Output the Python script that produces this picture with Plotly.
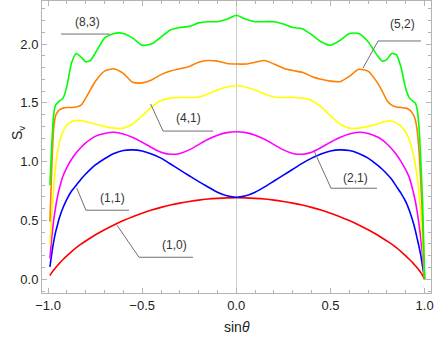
"""S_v against sin(theta) for several (n,m) states"""

import plotly.graph_objs as go

FILE_OUT = 'out.html'

SIN_THETA = [-0.99, -0.98, -0.97, -0.96, -0.95, -0.94, -0.92, -0.90, -0.875, -0.85,
             -0.825, -0.80, -0.775, -0.75, -0.70, -0.65, -0.60, -0.55, -0.50, -0.45,
             -0.40, -0.35, -0.30, -0.25, -0.20, -0.15, -0.10, -0.05, 0.0,
             0.05, 0.10, 0.15, 0.20, 0.25, 0.30, 0.35, 0.40, 0.45, 0.50,
             0.55, 0.60, 0.65, 0.70, 0.75, 0.775, 0.80, 0.825, 0.85, 0.875,
             0.90, 0.92, 0.94, 0.95, 0.96, 0.97, 0.98, 0.99, 1.0]

S_10 = [0.032, 0.056, 0.078, 0.098, 0.117, 0.135, 0.168, 0.199, 0.235, 0.268,
        0.298, 0.325, 0.351, 0.376, 0.421, 0.462, 0.499, 0.532, 0.561, 0.588,
        0.611, 0.631, 0.647, 0.661, 0.673, 0.682, 0.688, 0.692, 0.693,
        0.692, 0.688, 0.682, 0.673, 0.661, 0.647, 0.631, 0.611, 0.588, 0.561,
        0.532, 0.499, 0.462, 0.421, 0.376, 0.351, 0.325, 0.298, 0.268, 0.235,
        0.199, 0.168, 0.135, 0.117, 0.098, 0.078, 0.056, 0.032, 0.0]

S_11 = [0.105, 0.22, 0.32, 0.40, 0.46, 0.52, 0.61, 0.68, 0.75, 0.80,
        0.85, 0.895, 0.935, 0.97, 1.025, 1.07, 1.095, 1.10, 1.09, 1.065,
        1.03, 0.98, 0.93, 0.88, 0.83, 0.785, 0.74, 0.71, 0.697,
        0.71, 0.74, 0.785, 0.835, 0.885, 0.935, 0.985, 1.03, 1.065, 1.09,
        1.10, 1.095, 1.07, 1.03, 0.97, 0.935, 0.895, 0.85, 0.79, 0.73,
        0.66, 0.58, 0.48, 0.42, 0.35, 0.28, 0.20, 0.10, 0.0]

S_21 = [0.175, 0.36, 0.50, 0.61, 0.70, 0.77, 0.88, 0.95, 1.02, 1.075,
        1.12, 1.16, 1.19, 1.215, 1.24, 1.25, 1.235, 1.205, 1.165, 1.12,
        1.08, 1.063, 1.07, 1.10, 1.145, 1.19, 1.225, 1.247, 1.254,
        1.247, 1.225, 1.19, 1.145, 1.10, 1.07, 1.063, 1.08, 1.12, 1.165,
        1.205, 1.235, 1.25, 1.24, 1.21, 1.185, 1.15, 1.11, 1.06, 1.0,
        0.93, 0.86, 0.74, 0.67, 0.58, 0.47, 0.34, 0.18, 0.0]

S_41 = [0.29, 0.55, 0.78, 0.96, 1.08, 1.16, 1.26, 1.31, 1.34, 1.35,
        1.35, 1.34, 1.33, 1.32, 1.30, 1.285, 1.285, 1.32, 1.39, 1.465,
        1.52, 1.54, 1.546, 1.545, 1.55, 1.575, 1.61, 1.635, 1.645,
        1.635, 1.61, 1.575, 1.55, 1.545, 1.546, 1.54, 1.52, 1.465, 1.39,
        1.32, 1.285, 1.285, 1.30, 1.32, 1.335, 1.345, 1.345, 1.33, 1.30,
        1.25, 1.18, 1.06, 0.98, 0.88, 0.74, 0.55, 0.30, 0.0]

S_52 = [0.49, 0.95, 1.28, 1.39, 1.42, 1.44, 1.455, 1.46, 1.46, 1.465,
        1.48, 1.54, 1.61, 1.68, 1.77, 1.79, 1.75, 1.675, 1.67, 1.695,
        1.74, 1.77, 1.79, 1.81, 1.845, 1.86, 1.855, 1.835, 1.83,
        1.83, 1.845, 1.86, 1.83, 1.795, 1.775, 1.76, 1.725, 1.70, 1.685,
        1.68, 1.725, 1.785, 1.77, 1.67, 1.60, 1.52, 1.48, 1.465, 1.46,
        1.455, 1.44, 1.40, 1.36, 1.27, 1.10, 0.82, 0.47, 0.0]

S_83 = [0.80, 1.15, 1.40, 1.48, 1.50, 1.515, 1.54, 1.64, 1.84, 1.92,
        1.89, 1.85, 1.86, 1.92, 2.05, 2.09, 2.09, 2.05, 1.99, 2.00,
        2.06, 2.12, 2.14, 2.15, 2.18, 2.19, 2.19, 2.21, 2.245,
        2.21, 2.19, 2.19, 2.19, 2.17, 2.14, 2.13, 2.08, 2.02, 1.99,
        2.03, 2.09, 2.09, 2.02, 1.90, 1.855, 1.87, 1.92, 1.91, 1.80,
        1.62, 1.54, 1.51, 1.50, 1.45, 1.30, 1.00, 0.62, 0.0]

SERIES = [('(1,0)', S_10, '#ff0000'),
          ('(1,1)', S_11, '#0000ff'),
          ('(2,1)', S_21, '#ff00ff'),
          ('(4,1)', S_41, '#ffff00'),
          ('(5,2)', S_52, '#ff8000'),
          ('(8,3)', S_83, '#00ff00')]

# callouts: point on curve -> elbow -> end of underline, and where the text sits
LABEL_NAMES = ['(8,3)', '(4,1)', '(5,2)', '(2,1)', '(1,1)', '(1,0)']
LABEL_CURVE = [(-0.671, 2.085), (-0.455, 1.49), (0.673, 1.796), (0.413, 1.09), (-0.847, 0.774), (-0.634, 0.46)]
LABEL_ELBOW = [(-0.671, 2.085), (-0.389, 1.26), (0.753, 2.026), (0.503, 0.774), (-0.799, 0.587), (-0.517, 0.187)]
LABEL_END = [(-0.931, 2.085), (-0.123, 1.26), (0.981, 2.026), (0.747, 0.774), (-0.57, 0.587), (-0.23, 0.187)]
LABEL_TEXT = [(-0.793, 2.19), (-0.256, 1.37), (0.885, 2.17), (0.635, 0.865), (-0.66, 0.69), (-0.326, 0.29)]

FONT = 'Liberation Sans, Arial, sans-serif'
FRAME = '#b4b4b4'

# the page body has a default 8px margin that would push the plot off its place
NO_BODY_MARGIN = "document.body.style.margin='0';document.body.style.overflow='hidden';"


def make_figure():
    traces = []
    for name, values, colour in SERIES:
        traces.append(go.Scatter(x=SIN_THETA, y=values, mode='lines', name=name,
                                 line=dict(color=colour, width=1.6, shape='spline', smoothing=0.6),
                                 showlegend=False))
    for curve, elbow, end in zip(LABEL_CURVE, LABEL_ELBOW, LABEL_END):
        traces.append(go.Scatter(x=[curve[0], elbow[0], end[0]], y=[curve[1], elbow[1], end[1]],
                                 mode='lines', line=dict(color='#707070', width=1),
                                 hoverinfo='skip', showlegend=False))
    annotations = [dict(x=pos[0], y=pos[1], text=name, showarrow=False,
                        xanchor='center', yanchor='middle',
                        font=dict(family=FONT, size=12, color='#333333'))
                   for name, pos in zip(LABEL_NAMES, LABEL_TEXT)]
    # axis titles placed by hand, like the frame labels of the original
    annotations.append(dict(xref='paper', yref='paper', x=-24 / 389, y=0.5 + 14 / 292,
                            xanchor='center', yanchor='middle',
                            text='S<sub>v</sub>', textangle=-90, showarrow=False,
                            font=dict(family=FONT, size=14, color='#222222')))
    annotations.append(dict(xref='paper', yref='paper', x=0.5, y=-34 / 292,
                            xanchor='center', yanchor='middle',
                            text='sin<i>θ</i>', showarrow=False,
                            font=dict(family=FONT, size=14, color='#222222')))

    axis = dict(showline=True, linecolor=FRAME, linewidth=1, mirror='ticks',
                ticks='inside', ticklen=5, tickcolor=FRAME, tickwidth=1,
                tickformat='.1f', showgrid=False, automargin=False,
                tickfont=dict(family=FONT, size=13, color='#222222'),
                minor=dict(ticks='inside', ticklen=3, tickcolor=FRAME, dtick=0.1, showgrid=False))
    layout = go.Layout(
        width=436, height=343,
        margin=dict(l=42, r=5, t=1, b=50, autoexpand=False),
        paper_bgcolor='white', plot_bgcolor='white',
        xaxis=dict(axis, range=[-1.032, 1.034], dtick=0.5, tick0=0,
                   zeroline=True, zerolinecolor='#cccccc', zerolinewidth=1),
        yaxis=dict(axis, range=[-0.117, 2.366], dtick=0.5, tick0=0, zeroline=False),
        annotations=annotations,
    )
    return go.Figure(traces, layout=layout)


if __name__ == '__main__':
    fig = make_figure()
    fig.write_html(FILE_OUT, post_script=NO_BODY_MARGIN, config={'displayModeBar': False})
